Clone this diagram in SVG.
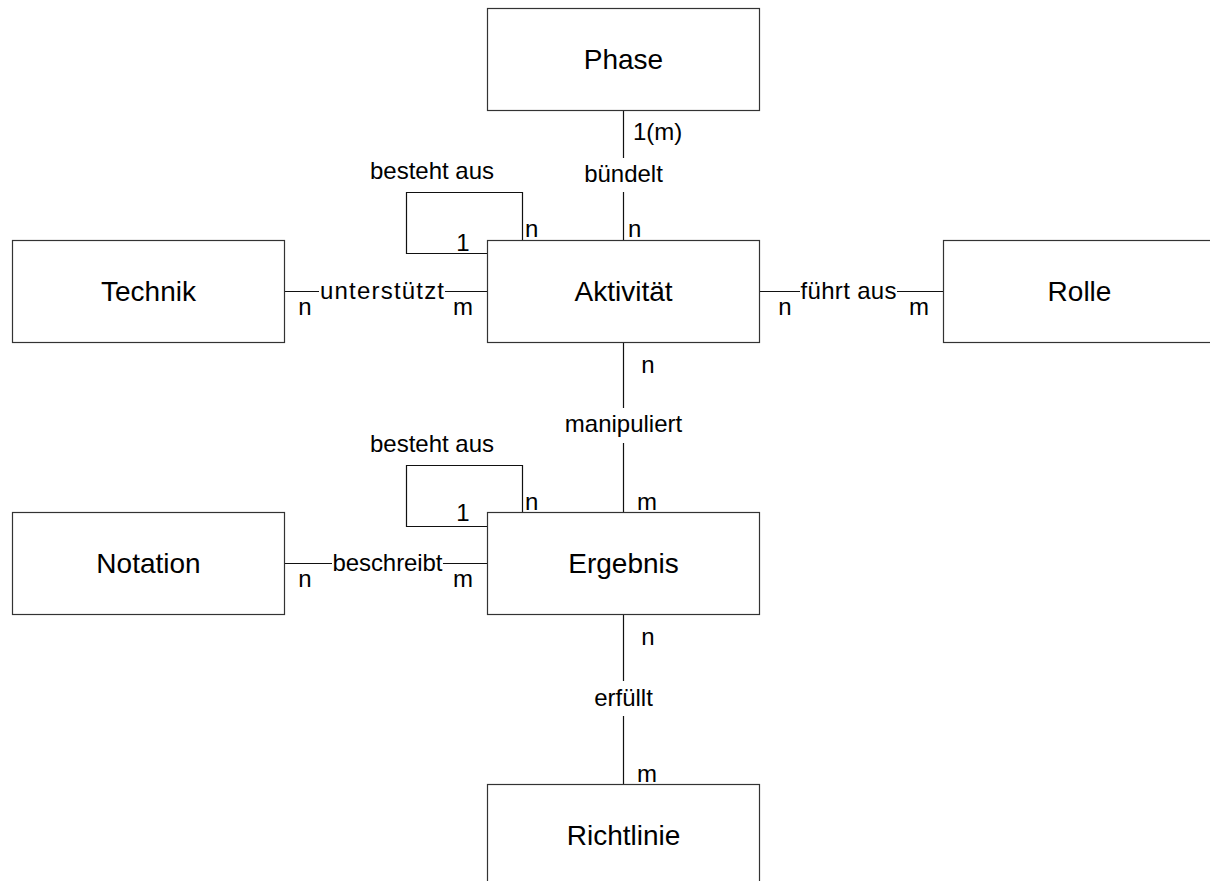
<svg xmlns="http://www.w3.org/2000/svg" width="1210" height="881" viewBox="0 0 1210 881">
<style>
.box{fill:#fff;stroke:#333;stroke-width:1.2}
.ln{fill:none;stroke:#111;stroke-width:1.2}
.ent{font-family:"Liberation Sans",Arial,sans-serif;font-size:28px;fill:#000;text-anchor:middle}
.lbl{font-family:"Liberation Sans",Arial,sans-serif;font-size:24px;fill:#000}
.mid{text-anchor:middle}
</style>
<rect width="1210" height="881" fill="#fff"/>
<g id="connectors">
<path class="ln" d="M623.5,110.5V158M623.5,192V240.5"/>
<path class="ln" d="M623.5,342.5V408M623.5,443V512.5"/>
<path class="ln" d="M623.5,614.5V681M623.5,716V784.5"/>
<path class="ln" d="M284.5,291.5H319M445,291.5H487.5"/>
<path class="ln" d="M759.5,291.5H800M897,291.5H943.5"/>
<path class="ln" d="M284.5,563.5H332M443,563.5H487.5"/>
<path class="ln" d="M522.5,240.5V192.5H406.5V253.5H487.5"/>
<path class="ln" d="M522.5,512.5V465.5H406.5V526.5H487.5"/>
<text class="lbl" x="633" y="140">1(m)</text>
<text class="lbl mid" x="623.5" y="182">bündelt</text>
<text class="lbl" x="628" y="237">n</text>
<text class="lbl" x="525" y="237">n</text>
<text class="lbl mid" x="463" y="251">1</text>
<text class="lbl mid" x="432" y="179">besteht aus</text>
<text class="lbl mid" x="382" y="299" textLength="124" lengthAdjust="spacing">unterstützt</text>
<text class="lbl mid" x="305" y="315">n</text>
<text class="lbl mid" x="463" y="315">m</text>
<text class="lbl mid" x="848.5" y="299" textLength="96" lengthAdjust="spacing">führt aus</text>
<text class="lbl mid" x="785" y="315">n</text>
<text class="lbl mid" x="919" y="315">m</text>
<text class="lbl mid" x="648" y="373">n</text>
<text class="lbl mid" x="623.5" y="432">manipuliert</text>
<text class="lbl mid" x="647" y="510">m</text>
<text class="lbl mid" x="432" y="452">besteht aus</text>
<text class="lbl" x="525" y="510">n</text>
<text class="lbl mid" x="463" y="521">1</text>
<text class="lbl mid" x="387.5" y="571" textLength="110" lengthAdjust="spacing">beschreibt</text>
<text class="lbl mid" x="305" y="587">n</text>
<text class="lbl mid" x="463" y="587">m</text>
<text class="lbl mid" x="648" y="645">n</text>
<text class="lbl mid" x="623.5" y="706">erfüllt</text>
<text class="lbl mid" x="647" y="782">m</text>
</g>
<g id="Phase"><rect class="box" x="487.5" y="8.5" width="272" height="102"/><text class="ent" x="623.5" y="69">Phase</text></g>
<g id="Aktivitaet"><rect class="box" x="487.5" y="240.5" width="272" height="102"/><text class="ent" x="623.5" y="301">Aktivität</text></g>
<g id="Technik"><rect class="box" x="12.5" y="240.5" width="272" height="102"/><text class="ent" x="148.5" y="301">Technik</text></g>
<g id="Rolle"><rect class="box" x="943.5" y="240.5" width="272" height="102"/><text class="ent" x="1079.5" y="301">Rolle</text></g>
<g id="Notation"><rect class="box" x="12.5" y="512.5" width="272" height="102"/><text class="ent" x="148.5" y="573">Notation</text></g>
<g id="Ergebnis"><rect class="box" x="487.5" y="512.5" width="272" height="102"/><text class="ent" x="623.5" y="573">Ergebnis</text></g>
<g id="Richtlinie"><rect class="box" x="487.5" y="784.5" width="272" height="102"/><text class="ent" x="623.5" y="845">Richtlinie</text></g>
</svg>
